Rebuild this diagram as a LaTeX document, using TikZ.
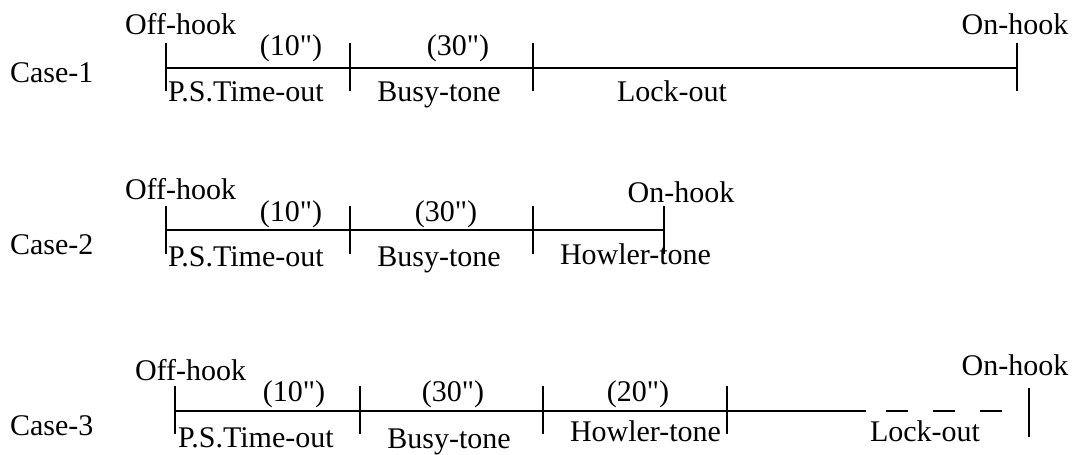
\documentclass[tikz,border=0pt]{standalone}
\usepackage{fontspec}
\setmainfont{Liberation Serif}[Ligatures=TeXOff]
\usetikzlibrary{calc}
\begin{document}
\begin{tikzpicture}[x=1pt,y=-1pt,
  lbl/.style={font=\fontsize{30}{36}\selectfont, inner sep=0pt, outer sep=0pt},
  axisline/.style={line width=1.8pt},
  tk/.style={line width=2.5pt},
  dashline/.style={line width=2pt, dash pattern=on 22pt off 25pt}]
\useasboundingbox (0,0) rectangle (1076,455);

% ---------- Case 1 ----------
\coordinate (a0) at (166,68);
\coordinate (a1) at (350,68);
\coordinate (a2) at (533,68);
\coordinate (a3) at (1017,68);
\draw[axisline] (a0) -- (a3);
\foreach \p in {a0,a1,a2,a3}
  \draw[tk] ($(\p)+(0,-25)$) -- ($(\p)+(0,23)$);
\node[lbl, anchor=base west] (c1) at (10,82) {Case-1};
\node[lbl, anchor=base west] (off1) at (125,34) {Off-hook};
\node[lbl, anchor=base] (on1) at (1015,34) {On-hook};
\node[lbl, anchor=base] (t10a) at (291,55) {(10")};
\node[lbl, anchor=base] (t30a) at (458,55) {(30")};
\node[lbl, anchor=base west] (ps1) at (168,101) {P.S.Time-out};
\node[lbl, anchor=base] (bt1) at (439,101) {Busy-tone};
\node[lbl, anchor=base] (lo1) at (672,101) {Lock-out};

% ---------- Case 2 ----------
\coordinate (b0) at (166,230);
\coordinate (b1) at (350,230);
\coordinate (b2) at (533,230);
\coordinate (b3) at (664,230);
\draw[axisline] (b0) -- (b3);
\foreach \p in {b0,b1,b2,b3}
  \draw[tk] ($(\p)+(0,-24)$) -- ($(\p)+(0,24)$);
\node[lbl, anchor=base west] (c2) at (10,254) {Case-2};
\node[lbl, anchor=base west] (off2) at (125,199) {Off-hook};
\node[lbl, anchor=base] (on2) at (681,202) {On-hook};
\node[lbl, anchor=base] (t10b) at (291,221) {(10")};
\node[lbl, anchor=base] (t30b) at (446,221) {(30")};
\node[lbl, anchor=base west] (ps2) at (168,266) {P.S.Time-out};
\node[lbl, anchor=base] (bt2) at (439,266) {Busy-tone};
\node[lbl, anchor=base west] (ht2) at (560,264) {Howler-tone};

% ---------- Case 3 ----------
\coordinate (d0) at (175,411);
\coordinate (d1) at (360,411);
\coordinate (d2) at (543,411);
\coordinate (d3) at (727,411);
\coordinate (d4) at (866,411);
\coordinate (d5) at (886,411);
\coordinate (d6) at (1004,411);
\coordinate (d7) at (1029,411);
\draw[axisline] (d0) -- (d4);
\draw[dashline] (d5) -- (d6);
\foreach \p in {d0,d1,d2,d3}
  \draw[tk] ($(\p)+(0,-25)$) -- ($(\p)+(0,23)$);
\draw[tk] ($(d7)+(0,-23)$) -- ($(d7)+(0,26)$);
\node[lbl, anchor=base west] (c3) at (10,435) {Case-3};
\node[lbl, anchor=base west] (off3) at (135,380) {Off-hook};
\node[lbl, anchor=base] (on3) at (1015,375) {On-hook};
\node[lbl, anchor=base] (t10c) at (294,401) {(10")};
\node[lbl, anchor=base] (t30c) at (453,401) {(30")};
\node[lbl, anchor=base] (t20c) at (638,401) {(20")};
\node[lbl, anchor=base west] (ps3) at (178,447) {P.S.Time-out};
\node[lbl, anchor=base] (bt3) at (449,448) {Busy-tone};
\node[lbl, anchor=base west] (ht3) at (570,441) {Howler-tone};
\node[lbl, anchor=base] (lo3) at (925,441) {Lock-out};
\end{tikzpicture}
\end{document}
